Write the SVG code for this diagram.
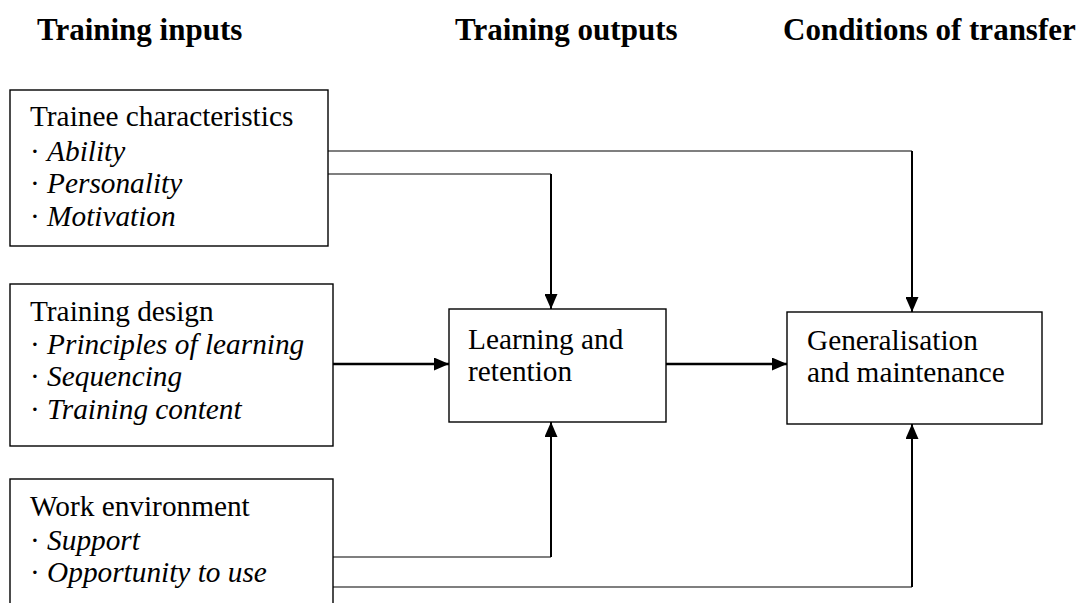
<svg xmlns="http://www.w3.org/2000/svg" width="1081" height="603" viewBox="0 0 1081 603">
  <style>
    .box { fill: #ffffff; stroke: #000000; stroke-width: 1.4; }
    .txt { font-family: 'Liberation Serif', 'DejaVu Serif', serif; font-size: 29.3px; fill: #000000; }
    .it { font-style: italic; }
    .head { font-family: 'Liberation Serif', 'DejaVu Serif', serif; font-size: 31px; font-weight: bold; fill: #000000; }
    .thin { fill: none; stroke: #000000; stroke-width: 1.2; }
    .stem { fill: none; stroke: #000000; stroke-width: 2; }
    .flow { fill: none; stroke: #000000; stroke-width: 2.6; }
  </style>
  <defs>
    <marker id="arrow" markerUnits="userSpaceOnUse" markerWidth="15" markerHeight="13" refX="15" refY="6.5" orient="auto">
      <path d="M0,0 L15,6.5 L0,13 z" fill="#000000"/>
    </marker>
  </defs>
  <rect width="1081" height="603" fill="#ffffff"/>

  <!-- column headings -->
  <g id="headings">
    <text class="head" x="37" y="40">Training inputs</text>
    <text class="head" x="455" y="40">Training outputs</text>
    <text class="head" x="783" y="40">Conditions of transfer</text>
  </g>

  <!-- connectors -->
  <g id="connectors">
    <path class="thin" d="M328,151 H912"/>
    <path class="stem" d="M912,151 V312" marker-end="url(#arrow)"/>
    <path class="thin" d="M328,174 H551"/>
    <path class="stem" d="M551,174 V309" marker-end="url(#arrow)"/>
    <path class="flow" d="M333,364 H449" marker-end="url(#arrow)"/>
    <path class="flow" d="M666,364 H787" marker-end="url(#arrow)"/>
    <path class="thin" d="M333,557 H551"/>
    <path class="stem" d="M551,557 V422" marker-end="url(#arrow)"/>
    <path class="thin" d="M333,587 H912"/>
    <path class="stem" d="M912,587 V424" marker-end="url(#arrow)"/>
  </g>

  <g id="trainee-characteristics">
    <rect class="box" x="10" y="90" width="318" height="156"/>
    <text class="txt" x="30" y="126">Trainee characteristics</text>
    <text class="txt" x="30" y="161">· <tspan class="it">Ability</tspan></text>
    <text class="txt" x="30" y="193">· <tspan class="it">Personality</tspan></text>
    <text class="txt" x="30" y="226">· <tspan class="it">Motivation</tspan></text>
  </g>

  <g id="training-design">
    <rect class="box" x="10" y="284" width="323" height="162"/>
    <text class="txt" x="30" y="321">Training design</text>
    <text class="txt" x="30" y="354">· <tspan class="it">Principles of learning</tspan></text>
    <text class="txt" x="30" y="386">· <tspan class="it">Sequencing</tspan></text>
    <text class="txt" x="30" y="419">· <tspan class="it">Training content</tspan></text>
  </g>

  <g id="work-environment">
    <rect class="box" x="10" y="479" width="323" height="150"/>
    <text class="txt" x="30" y="516">Work environment</text>
    <text class="txt" x="30" y="550">· <tspan class="it">Support</tspan></text>
    <text class="txt" x="30" y="582">· <tspan class="it">Opportunity to use</tspan></text>
  </g>

  <g id="learning-retention">
    <rect class="box" x="449" y="309" width="217" height="113"/>
    <text class="txt" x="468" y="349">Learning and</text>
    <text class="txt" x="468" y="381">retention</text>
  </g>

  <g id="generalisation-maintenance">
    <rect class="box" x="787" y="312" width="255" height="112"/>
    <text class="txt" x="807" y="350">Generalisation</text>
    <text class="txt" x="807" y="382">and maintenance</text>
  </g>
</svg>
